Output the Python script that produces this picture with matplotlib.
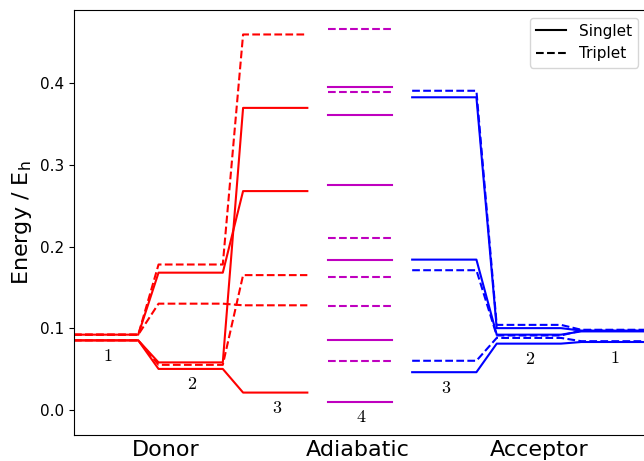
import matplotlib
matplotlib.use("Agg")
import matplotlib.pyplot as plt
from matplotlib.lines import Line2D

# Energies in E_h. One row per state, one column per geometry (left -> right).
# Donor fragment, geometries 1, 2, 3
DONOR_SINGLET = [[0.092, 0.168, 0.268],
                 [0.085, 0.058, 0.370],
                 [0.085, 0.050, 0.021]]
DONOR_TRIPLET = [[0.092, 0.178, 0.460],
                 [0.092, 0.130, 0.128],
                 [0.085, 0.055, 0.165]]

# Adiabatic states (geometry 4)
ADIABATIC_SINGLET = [0.396, 0.361, 0.276, 0.184, 0.086, 0.010]
ADIABATIC_TRIPLET = [0.467, 0.390, 0.211, 0.163, 0.127, 0.060]

# Acceptor fragment, geometries 3, 2, 1
ACCEPTOR_SINGLET = [[0.383, 0.100, 0.097],
                    [0.184, 0.092, 0.096],
                    [0.046, 0.081, 0.083]]
ACCEPTOR_TRIPLET = [[0.391, 0.104, 0.098],
                    [0.171, 0.091, 0.097],
                    [0.060, 0.088, 0.084]]

DONOR_TAGS = ["1", "2", "3"]
ADIABATIC_TAG = "4"
ACCEPTOR_TAGS = ["3", "2", "1"]
GROUP_NAMES = ["Donor", "Adiabatic", "Acceptor"]

WIDTH = 0.76   # length of one level bar, stages are 1 apart
LW = 1.5


def state_path(levels, start):
    xs, ys = [], []
    for i, e in enumerate(levels):
        xs += [start + i, start + i + WIDTH]
        ys += [e, e]
    return xs, ys


def draw_fragment(ax, singlets, triplets, start, color):
    for lev in singlets:
        xs, ys = state_path(lev, start)
        ax.plot(xs, ys, color=color, ls="-", lw=LW)
    for lev in triplets:
        xs, ys = state_path(lev, start)
        ax.plot(xs, ys, color=color, ls="--", lw=LW)


def tag(ax, x, lowest, text):
    ax.text(x + 0.4, lowest - 0.019, r"$\mathbf{%s}$" % text,
            math_fontfamily="cm", fontsize=13, ha="center", va="center")


fig = plt.figure(figsize=(6.44, 4.61), dpi=100)
ax = fig.add_axes([74 / 644, 26 / 461, 571.5 / 644, 425 / 461])

draw_fragment(ax, DONOR_SINGLET, DONOR_TRIPLET, 0, "r")
for e in ADIABATIC_SINGLET:
    ax.plot([3, 3 + WIDTH], [e, e], color="m", ls="-", lw=LW)
for e in ADIABATIC_TRIPLET:
    ax.plot([3, 3 + WIDTH], [e, e], color="m", ls="--", lw=LW)
draw_fragment(ax, ACCEPTOR_SINGLET, ACCEPTOR_TRIPLET, 4, "b")

# geometry numbers under the lowest level of each stage
for i, t in enumerate(DONOR_TAGS):
    low = min([s[i] for s in DONOR_SINGLET] + [s[i] for s in DONOR_TRIPLET])
    tag(ax, i, low, t)
tag(ax, 3, min(ADIABATIC_SINGLET + ADIABATIC_TRIPLET), ADIABATIC_TAG)
for i, t in enumerate(ACCEPTOR_TAGS):
    low = min([s[i] for s in ACCEPTOR_SINGLET] + [s[i] for s in ACCEPTOR_TRIPLET])
    tag(ax, 4 + i, low, t)

ax.set_xlim(0, 6 + WIDTH)
ax.set_ylim(-0.031, 0.49)
ax.set_xticks([1.08, 3.36, 5.50])
ax.set_xticklabels(GROUP_NAMES, fontsize=16)
ax.tick_params(axis="x", length=0)
ax.set_yticks([0.0, 0.1, 0.2, 0.3, 0.4])
ax.tick_params(axis="y", labelsize=11)
ax.set_ylabel(r"Energy / E$_\mathrm{h}$", fontsize=16)

handles = [Line2D([], [], color="k", ls="-", lw=LW, label="Singlet"),
           Line2D([], [], color="k", ls="--", lw=LW, label="Triplet")]
ax.legend(handles=handles, loc="upper right", fontsize=11)

fig.savefig("out.png", dpi=100)
